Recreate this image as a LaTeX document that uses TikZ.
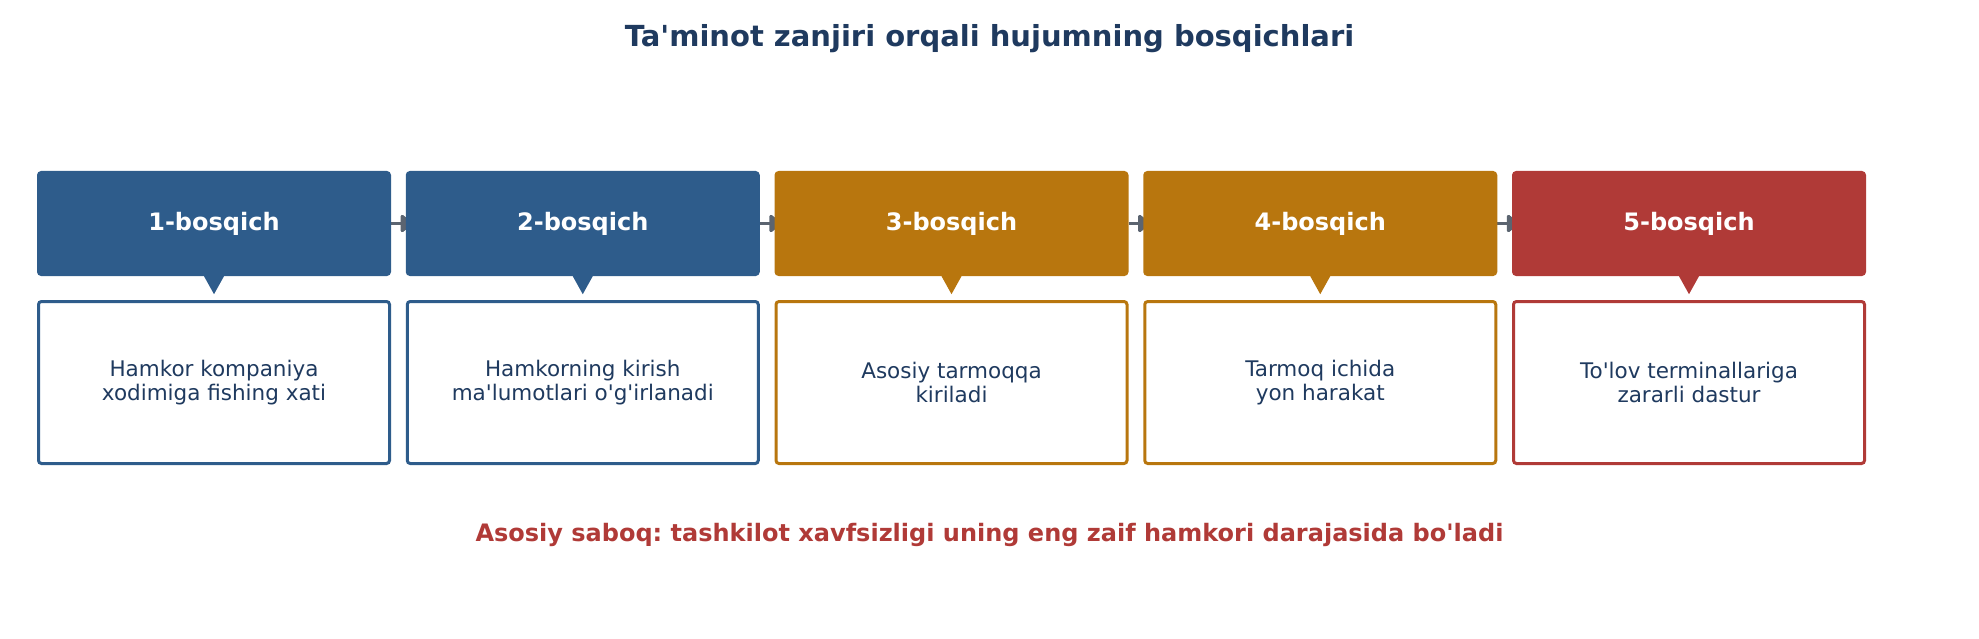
\documentclass[tikz,border=0pt]{standalone}
\usepackage{fontspec}
\setmainfont{DejaVu Sans}
\usetikzlibrary{arrows.meta,positioning}
\pgfdeclarelayer{bg}
\pgfsetlayers{bg,main}
\definecolor{cblue}{HTML}{2E5C8B}
\definecolor{cgold}{HTML}{B8760E}
\definecolor{cred}{HTML}{B03A37}
\definecolor{navy}{HTML}{1F3A5F}
\definecolor{agray}{HTML}{5B6470}
\newcommand{\q}{\textquotesingle}
\frenchspacing
\tikzset{
  head/.style={fill=#1, draw=none, rounded corners=4pt, minimum width=354pt, minimum height=105pt,
    text=white, font=\fontsize{24}{28}\selectfont\bfseries, inner sep=0pt},
  body/.style={draw=#1, line width=3pt, fill=white, rounded corners=3pt, minimum width=351pt, minimum height=162pt,
    text=navy, font=\fontsize{21.5}{24.5}\selectfont, align=center, inner sep=0pt},
  flow/.style={draw=agray, line width=3.5pt, -{Triangle[length=13pt,width=20pt,round]}},
}
\begin{document}
\begin{tikzpicture}[x=1pt,y=-1pt]
\useasboundingbox (0,0) rectangle (1979,639);
\node[text=navy, font=\fontsize{29}{33}\selectfont\bfseries] (title) at (989.5,39) {Ta\q minot zanjiri orqali hujumning bosqichlari};
\foreach \i/\c/\t in {1/cblue/{Hamkor kompaniya\\xodimiga fishing xati},
                       2/cblue/{Hamkorning kirish\\ma\q lumotlari o\q g\q irlanadi},
                       3/cgold/{Asosiy tarmoqqa\\kiriladi},
                       4/cgold/{Tarmoq ichida\\yon harakat},
                       5/cred/{To\q lov terminallariga\\zararli dastur}} {
  \pgfmathsetmacro{\cx}{214+368.75*(\i-1)}
  \node[head=\c] (h\i) at (\cx,223.5) {\i-bosqich};
  \fill[\c] ([xshift=-10pt]h\i.south) -- ([xshift=10pt]h\i.south) -- ([yshift=-18pt]h\i.south) -- cycle;
  \node[body=\c] (b\i) at (\cx,382.5) {\t};
}
\begin{pgfonlayer}{bg}
\foreach \i [evaluate=\i as \j using int(\i+1)] in {1,...,4} {
  \draw[flow] (h\i.east) -- ([xshift=7pt]h\j.west);
}
\end{pgfonlayer}
\node[text=cred, font=\fontsize{24}{28}\selectfont\bfseries] (lesson) at (989.5,535) {Asosiy saboq: tashkilot xavfsizligi uning eng zaif hamkori darajasida bo\q ladi};
\end{tikzpicture}
\end{document}
